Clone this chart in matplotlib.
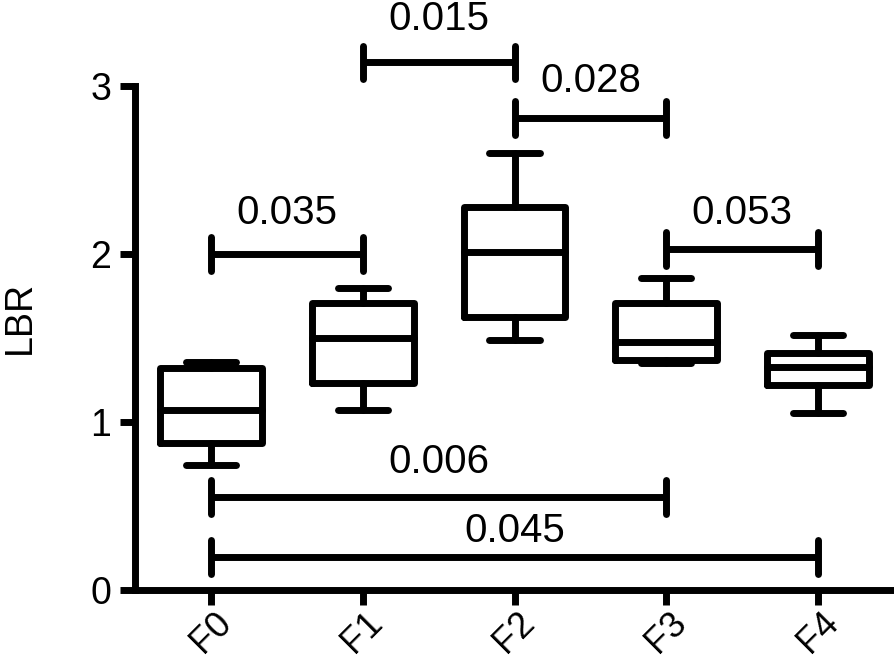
import matplotlib
matplotlib.use("Agg")
import matplotlib.pyplot as plt

plt.rcParams['font.family'] = ['Liberation Sans', 'DejaVu Sans']

groups = ["F0", "F1", "F2", "F3", "F4"]
whis_lo = [0.745, 1.07, 1.49, 1.35, 1.055]
q1 = [0.875, 1.23, 1.625, 1.37, 1.22]
median = [1.07, 1.50, 2.01, 1.476, 1.33]
q3 = [1.32, 1.71, 2.28, 1.71, 1.41]
whis_hi = [1.357, 1.80, 2.60, 1.857, 1.52]

# significance brackets: (group a, group b, bracket height, label height, p-value)
br_a = [0, 1, 2, 3, 0, 0]
br_b = [1, 2, 3, 4, 3, 4]
br_y = [2.0, 3.14, 2.81, 2.03, 0.555, 0.196]
br_text_y = [2.18, 3.333, 2.964, 2.18, 0.696, 0.286]
br_label = ["0.035", "0.015", "0.028", "0.053", "0.006", "0.045"]

fig = plt.figure(figsize=(8.94, 6.67), dpi=100)
ax = fig.add_axes([135/894, (667-590)/667, (894-135)/894, (590-86)/667])

LW = 5
stats = []
for i, g in enumerate(groups):
    stats.append(dict(label=g, whislo=whis_lo[i], q1=q1[i], med=median[i],
                      q3=q3[i], whishi=whis_hi[i], fliers=[]))
bp = ax.bxp(stats, positions=range(len(groups)), widths=0.67, capwidths=0.33,
            showfliers=False,
            boxprops=dict(color='black', linewidth=LW),
            medianprops=dict(color='black', linewidth=LW),
            whiskerprops=dict(color='black', linewidth=LW),
            capprops=dict(color='black', linewidth=LW))
for key in ['boxes', 'medians', 'whiskers', 'caps']:
    for ln in bp[key]:
        ln.set_solid_capstyle('round')
        ln.set_solid_joinstyle('round')

tick_h = 0.10
for a, b, y, ty, lab in zip(br_a, br_b, br_y, br_text_y, br_label):
    ax.plot([a, b], [y, y], color='black', lw=LW, solid_capstyle='butt', clip_on=False)
    for xx in (a, b):
        ax.plot([xx, xx], [y - tick_h, y + tick_h], color='black', lw=LW,
                solid_capstyle='round', clip_on=False)
    ax.text((a + b) / 2, ty, lab, ha='center', va='baseline', fontsize=29)

ax.set_xlim(-0.5, 4.5)
ax.set_ylim(0, 3)
ax.set_yticks([0, 1, 2, 3])
ax.set_xticks(range(len(groups)))
ax.set_xticklabels(groups, rotation=45, ha='center', va='top', fontsize=26)
ax.set_ylabel("LBR", fontsize=27)
ax.yaxis.set_label_coords(-0.128, 0.54)
ax.tick_params(axis='both', labelsize=27, width=LW, length=11, color='black')
ax.tick_params(axis='y', pad=6)
ax.tick_params(axis='x', pad=0, labelsize=26)
for s in ['top', 'right']:
    ax.spines[s].set_visible(False)
for s in ['left', 'bottom']:
    ax.spines[s].set_linewidth(LW)
    ax.spines[s].set_capstyle('projecting')

fig.savefig("out.png", dpi=100)
